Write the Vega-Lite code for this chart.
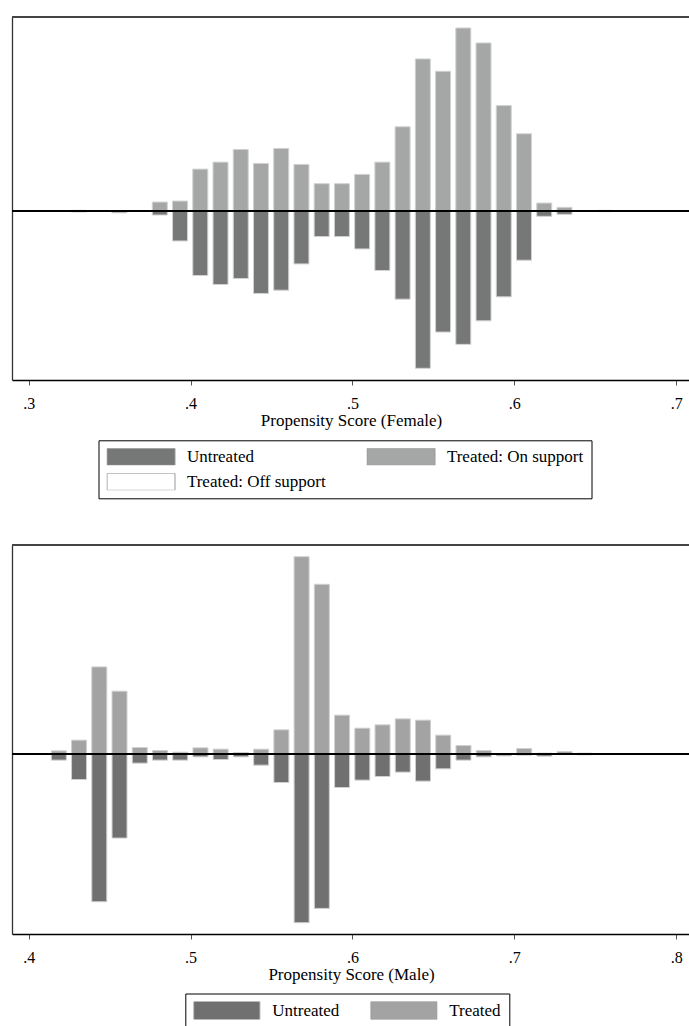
{
  "$schema": "https://vega.github.io/schema/vega-lite/v6.json",
  "padding": {"left": 11, "top": 16, "right": 0, "bottom": 0},
  "config": {
    "view": {"stroke": null},
    "font": "Liberation Serif",
    "text": {"font": "Liberation Serif"},
    "axis": {"labelFont": "Liberation Serif", "titleFont": "Liberation Serif", "labelColor": "black", "titleColor": "black", "titleFontWeight": "normal", "grid": false},
    "legend": {"labelFont": "Liberation Serif", "labelColor": "black", "labelFontSize": 17, "labelLimit": 400}
  },
  "datasets": {
    "female": [
      {"score": 0.331, "group": "Treated: On support", "value": 1},
      {"score": 0.331, "group": "Untreated", "value": -0.7},
      {"score": 0.356, "group": "Treated: On support", "value": 0.7},
      {"score": 0.356, "group": "Untreated", "value": -1.5},
      {"score": 0.381, "group": "Treated: On support", "value": 9.3},
      {"score": 0.381, "group": "Untreated", "value": -3.7},
      {"score": 0.3935, "group": "Treated: On support", "value": 10.3},
      {"score": 0.3935, "group": "Untreated", "value": -29.7},
      {"score": 0.406, "group": "Treated: On support", "value": 42.3},
      {"score": 0.406, "group": "Untreated", "value": -64.3},
      {"score": 0.4185, "group": "Treated: On support", "value": 49.3},
      {"score": 0.4185, "group": "Untreated", "value": -73.3},
      {"score": 0.431, "group": "Treated: On support", "value": 62},
      {"score": 0.431, "group": "Untreated", "value": -67.3},
      {"score": 0.4435, "group": "Treated: On support", "value": 48},
      {"score": 0.4435, "group": "Untreated", "value": -82.3},
      {"score": 0.456, "group": "Treated: On support", "value": 63},
      {"score": 0.456, "group": "Untreated", "value": -79},
      {"score": 0.4685, "group": "Treated: On support", "value": 47},
      {"score": 0.4685, "group": "Untreated", "value": -52.7},
      {"score": 0.481, "group": "Treated: On support", "value": 27.7},
      {"score": 0.481, "group": "Untreated", "value": -25.3},
      {"score": 0.4935, "group": "Treated: On support", "value": 27.7},
      {"score": 0.4935, "group": "Untreated", "value": -25.3},
      {"score": 0.506, "group": "Treated: On support", "value": 37},
      {"score": 0.506, "group": "Untreated", "value": -37.7},
      {"score": 0.5185, "group": "Treated: On support", "value": 49.3},
      {"score": 0.5185, "group": "Untreated", "value": -59.3},
      {"score": 0.531, "group": "Treated: On support", "value": 84.7},
      {"score": 0.531, "group": "Untreated", "value": -88},
      {"score": 0.5435, "group": "Treated: On support", "value": 152.7},
      {"score": 0.5435, "group": "Untreated", "value": -157.3},
      {"score": 0.556, "group": "Treated: On support", "value": 140.3},
      {"score": 0.556, "group": "Untreated", "value": -121},
      {"score": 0.5685, "group": "Treated: On support", "value": 183.7},
      {"score": 0.5685, "group": "Untreated", "value": -133.3},
      {"score": 0.581, "group": "Treated: On support", "value": 168.7},
      {"score": 0.581, "group": "Untreated", "value": -109.7},
      {"score": 0.5935, "group": "Treated: On support", "value": 106},
      {"score": 0.5935, "group": "Untreated", "value": -85.7},
      {"score": 0.606, "group": "Treated: On support", "value": 77.7},
      {"score": 0.606, "group": "Untreated", "value": -49},
      {"score": 0.6185, "group": "Treated: On support", "value": 8.3},
      {"score": 0.6185, "group": "Untreated", "value": -5},
      {"score": 0.631, "group": "Treated: On support", "value": 4},
      {"score": 0.631, "group": "Untreated", "value": -3},
      {"score": 0.656, "group": "Treated: On support", "value": 1},
      {"score": 0.656, "group": "Untreated", "value": -0.3}
    ],
    "male": [
      {"score": 0.4186, "group": "Treated", "value": 3},
      {"score": 0.4186, "group": "Untreated", "value": -6.3},
      {"score": 0.4311, "group": "Treated", "value": 13.7},
      {"score": 0.4311, "group": "Untreated", "value": -25.7},
      {"score": 0.4436, "group": "Treated", "value": 87},
      {"score": 0.4436, "group": "Untreated", "value": -148},
      {"score": 0.4561, "group": "Treated", "value": 62.7},
      {"score": 0.4561, "group": "Untreated", "value": -84.3},
      {"score": 0.4686, "group": "Treated", "value": 6.3},
      {"score": 0.4686, "group": "Untreated", "value": -9.3},
      {"score": 0.4811, "group": "Treated", "value": 3.3},
      {"score": 0.4811, "group": "Untreated", "value": -6.3},
      {"score": 0.4936, "group": "Treated", "value": 1.7},
      {"score": 0.4936, "group": "Untreated", "value": -6.3},
      {"score": 0.5061, "group": "Treated", "value": 6},
      {"score": 0.5061, "group": "Untreated", "value": -3},
      {"score": 0.5186, "group": "Treated", "value": 4.7},
      {"score": 0.5186, "group": "Untreated", "value": -5.7},
      {"score": 0.5311, "group": "Treated", "value": 1.3},
      {"score": 0.5311, "group": "Untreated", "value": -3},
      {"score": 0.5436, "group": "Treated", "value": 4.7},
      {"score": 0.5436, "group": "Untreated", "value": -11.3},
      {"score": 0.5561, "group": "Treated", "value": 24},
      {"score": 0.5561, "group": "Untreated", "value": -28.7},
      {"score": 0.5686, "group": "Treated", "value": 197.3},
      {"score": 0.5686, "group": "Untreated", "value": -169},
      {"score": 0.5811, "group": "Treated", "value": 169.7},
      {"score": 0.5811, "group": "Untreated", "value": -154.7},
      {"score": 0.5936, "group": "Treated", "value": 38.7},
      {"score": 0.5936, "group": "Untreated", "value": -33.7},
      {"score": 0.6061, "group": "Treated", "value": 25.7},
      {"score": 0.6061, "group": "Untreated", "value": -26.3},
      {"score": 0.6186, "group": "Treated", "value": 29},
      {"score": 0.6186, "group": "Untreated", "value": -22.7},
      {"score": 0.6311, "group": "Treated", "value": 35},
      {"score": 0.6311, "group": "Untreated", "value": -18.3},
      {"score": 0.6436, "group": "Treated", "value": 33.7},
      {"score": 0.6436, "group": "Untreated", "value": -27.3},
      {"score": 0.6561, "group": "Treated", "value": 18.7},
      {"score": 0.6561, "group": "Untreated", "value": -15},
      {"score": 0.6686, "group": "Treated", "value": 8.3},
      {"score": 0.6686, "group": "Untreated", "value": -6.3},
      {"score": 0.6811, "group": "Treated", "value": 3.3},
      {"score": 0.6811, "group": "Untreated", "value": -3},
      {"score": 0.6936, "group": "Treated", "value": 0.3},
      {"score": 0.6936, "group": "Untreated", "value": -2},
      {"score": 0.7061, "group": "Treated", "value": 5.3},
      {"score": 0.7061, "group": "Untreated", "value": -1.3},
      {"score": 0.7186, "group": "Treated", "value": 0.7},
      {"score": 0.7186, "group": "Untreated", "value": -2.3},
      {"score": 0.7311, "group": "Treated", "value": 2.3},
      {"score": 0.7311, "group": "Untreated", "value": -0.7},
      {"score": 0.7436, "group": "Treated", "value": 0.7},
      {"score": 0.7436, "group": "Untreated", "value": -1}
    ]
  },
  "resolve": {"scale": {"color": "independent", "x": "independent", "y": "independent"}, "legend": {"color": "independent"}},
  "spacing": 45,
  "vconcat": [
    {
      "width": 678,
      "height": 363,
      "data": {"name": "female"},
      "layer": [
        {
          "mark": {"type": "bar", "size": 15, "stroke": "#d2d2d2", "strokeWidth": 1},
          "encoding": {
            "x": {
              "field": "score", "type": "quantitative",
              "scale": {"domain": [0.292756, 0.705479], "nice": false, "zero": false},
              "axis": {
                "values": [0.3, 0.4, 0.5, 0.6, 0.7],
                "labelExpr": "substring(format(datum.value, '.1f'), 1)",
                "labelFont": "Liberation Serif", "labelFontSize": 16, "labelPadding": 10, "labelFlush": false,
                "tickSize": 5, "tickColor": "#555555", "tickWidth": 1,
                "domainColor": "black", "domainWidth": 1.6,
                "title": "Propensity Score (Female)", "titleFont": "Liberation Serif", "titleFontSize": 17, "titleFontWeight": "normal", "titlePadding": 1
              }
            },
            "y": {
              "field": "value", "type": "quantitative", "stack": null,
              "scale": {"domain": [-169, 194.7], "nice": false},
              "axis": {"labels": false, "ticks": false, "title": null, "domainColor": "#333333", "domainWidth": 1.3}
            },
            "color": {
              "field": "group", "type": "nominal",
              "scale": {"domain": ["Untreated", "Treated: Off support", "Treated: On support"], "range": ["#767777", "#ffffff", "#a5a7a7"]},
              "legend": {
                "title": null, "orient": "none", "legendX": 86.5, "legendY": 423.3,
                "columns": 2, "columnPadding": 40, "rowPadding": 7,
                "strokeColor": "black", "padding": 8,
                "symbolType": "M-1,-0.5H3V0.5H-1Z", "symbolSize": 1156, "symbolStrokeWidth": 1, "symbolStrokeColor": "#999999",
                "clipHeight": 17, "labelOffset": 45.4, "labelFont": "Liberation Serif",
                "encode": {"symbols": {"update": {"stroke": {"value": "#999999"}, "strokeWidth": {"value": 1}, "opacity": {"value": 1}}}}
              }
            }
          }
        },
        {
          "mark": {"type": "rule", "color": "black", "strokeWidth": 1.2},
          "encoding": {"y": {"datum": 0}}
        },
        {
          "mark": {"type": "rule", "color": "#444444", "strokeWidth": 1.3},
          "encoding": {"y": {"datum": 194.7}}
        }
      ]
    },
    {
      "width": 678,
      "height": 389,
      "data": {"name": "male"},
      "layer": [
        {
          "mark": {"type": "bar", "size": 15, "stroke": "#d0d0d0", "strokeWidth": 1},
          "encoding": {
            "x": {
              "field": "score", "type": "quantitative",
              "scale": {"domain": [0.392756, 0.805479], "nice": false, "zero": false},
              "axis": {
                "values": [0.4, 0.5, 0.6, 0.7, 0.8],
                "labelExpr": "substring(format(datum.value, '.1f'), 1)",
                "labelFont": "Liberation Serif", "labelFontSize": 16, "labelPadding": 10, "labelFlush": false,
                "tickSize": 5, "tickColor": "#555555", "tickWidth": 1,
                "domainColor": "black", "domainWidth": 1.6,
                "title": "Propensity Score (Male)", "titleFont": "Liberation Serif", "titleFontSize": 17, "titleFontWeight": "normal", "titlePadding": 1
              }
            },
            "y": {
              "field": "value", "type": "quantitative", "stack": null,
              "scale": {"domain": [-180.3, 209], "nice": false},
              "axis": {"labels": false, "ticks": false, "title": null, "domainColor": "#333333", "domainWidth": 1.3}
            },
            "color": {
              "field": "group", "type": "nominal",
              "scale": {"domain": ["Untreated", "Treated"], "range": ["#707070", "#a3a3a3"]},
              "legend": {
                "title": null, "orient": "none", "legendX": 173.3, "legendY": 448.5,
                "columns": 2, "columnPadding": 30, "rowPadding": 7,
                "strokeColor": "black", "padding": 8,
                "symbolType": "M-1,-0.5H2.667V0.5H-1Z", "symbolSize": 1296, "symbolStrokeWidth": 1, "symbolStrokeColor": "#999999",
                "clipHeight": 18, "labelOffset": 42, "labelFont": "Liberation Serif",
                "encode": {"symbols": {"update": {"stroke": {"value": "#999999"}, "strokeWidth": {"value": 1}, "opacity": {"value": 1}}}}
              }
            }
          }
        },
        {
          "mark": {"type": "rule", "color": "black", "strokeWidth": 1.2},
          "encoding": {"y": {"datum": 0}}
        },
        {
          "mark": {"type": "rule", "color": "#444444", "strokeWidth": 1.3},
          "encoding": {"y": {"datum": 209}}
        }
      ]
    }
  ]
}
